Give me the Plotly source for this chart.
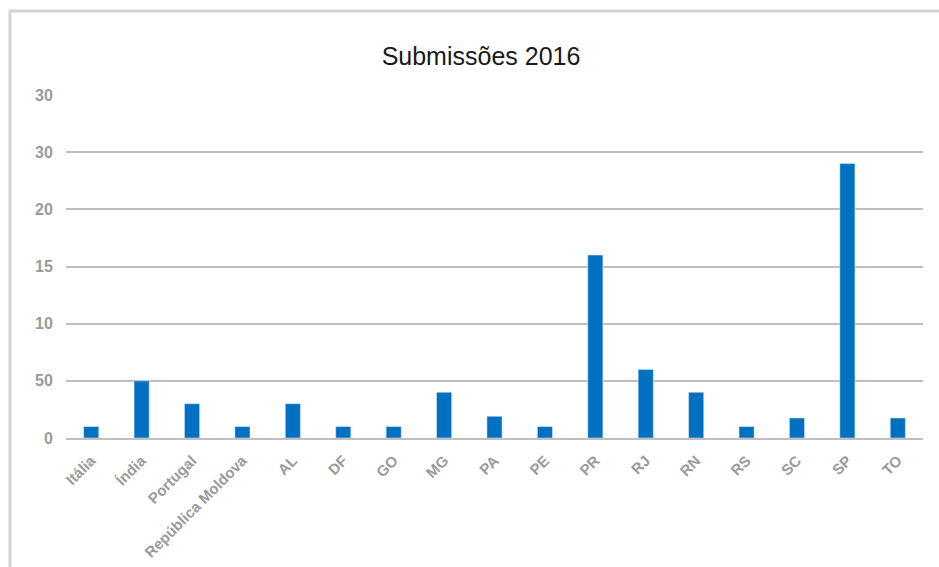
import plotly.graph_objects as go

categories = ["Itália", "Índia", "Portugal", "República Moldova", "AL", "DF", "GO", "MG",
              "PA", "PE", "PR", "RJ", "RN", "RS", "SC", "SP", "TO"]
values = [1, 5, 3, 1, 3, 1, 1, 4, 1.9, 1, 16, 6, 4, 1, 1.75, 24, 1.75]
tick_vals = [0, 5, 10, 15, 20, 25, 30]
tick_text = ["0", "50", "10", "15", "20", "30", "30"]

fig = go.Figure(go.Bar(x=categories, y=values, marker_color="#0070C0", width=0.3))

fig.update_layout(
    width=939, height=567,
    margin=dict(l=66, r=16, t=95, b=129),
    plot_bgcolor="white", paper_bgcolor="white",
    showlegend=False,
    title=dict(text="Submissões 2016", x=481/939, xanchor="center", y=1-56/567, yanchor="middle",
               font=dict(family="Liberation Sans, Arial", size=25, color="#1a1a1a")),
    font=dict(family="Liberation Sans, Arial"),
    bargap=0.7,
)
fig.update_xaxes(
    tickangle=-45, tickfont=dict(size=15, color="#9a9a9a", family="Liberation Sans, Arial", weight="bold"),
    showline=True, linecolor="#bfbfbf", linewidth=2, showgrid=False, automargin=False,
    ticks="outside", ticklen=6, tickcolor="rgba(0,0,0,0)",
)
fig.update_yaxes(
    range=[0, 30], tickvals=tick_vals, ticktext=tick_text, automargin=False,
    tickfont=dict(size=16, color="#9a9a9a", family="Liberation Sans, Arial", weight="bold"),
    showgrid=True, gridcolor="#bfbfbf", gridwidth=2, zeroline=False,
    ticks="outside", ticklen=9, tickcolor="rgba(0,0,0,0)",
)
fig.add_shape(type="rect", xref="paper", yref="paper",
              x0=(10 - 66) / (939 - 66 - 16), x1=1.2, y0=-1, y1=1 + (95 - 11) / (567 - 95 - 129),
              line=dict(color="#d4d4d4", width=3), layer="below")

fig.write_html("out.html")
